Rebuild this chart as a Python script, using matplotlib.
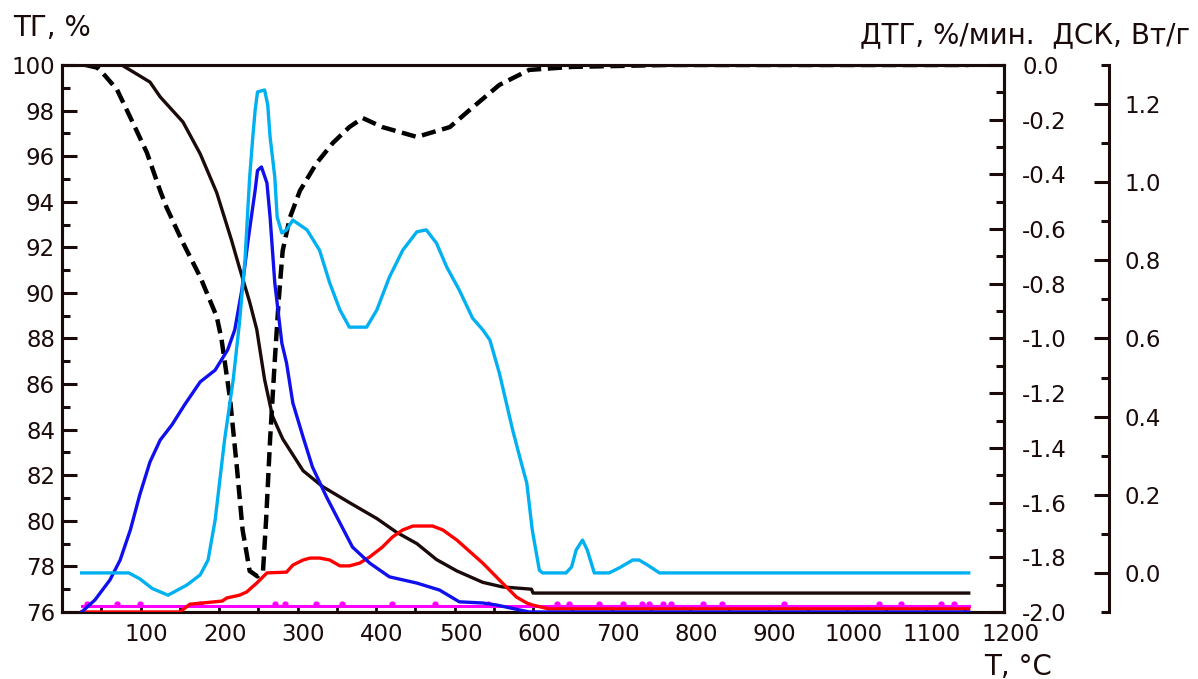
import numpy as np
import matplotlib
matplotlib.use("Agg")
import matplotlib.pyplot as plt
from matplotlib.ticker import MultipleLocator, FixedLocator, FuncFormatter
from matplotlib.transforms import ScaledTranslation

# TG, %
tg_t = [25, 76, 112, 125, 154, 176, 197, 216, 226, 239, 248, 258, 268, 281, 307, 332,
        366, 401, 426, 452, 477, 503, 536, 561, 598, 600, 1155]
tg_v = [100.0, 100.0, 99.25, 98.6, 97.5, 96.1, 94.4, 92.3, 91.1, 89.6, 88.4, 86.2, 84.6,
        83.6, 82.2, 81.5, 80.8, 80.1, 79.5, 79.0, 78.3, 77.8, 77.3, 77.1, 77.0, 76.83, 76.83]

# DTG, %/min
dtg_t = [30, 45, 55, 70, 90, 108, 125, 133, 154, 176, 197, 203, 214, 223, 230, 239, 249,
         256, 260, 265, 271, 276, 281, 290, 303, 324, 345, 366, 383, 408, 452, 494, 519,
         557, 595, 650, 770, 1155]
dtg_v = [0.0, -0.01, -0.04, -0.09, -0.21, -0.32, -0.46, -0.52, -0.65, -0.775, -0.92, -1.0,
         -1.22, -1.48, -1.70, -1.85, -1.87, -1.85, -1.66, -1.37, -1.08, -0.86, -0.68, -0.56,
         -0.46, -0.36, -0.285, -0.227, -0.194, -0.227, -0.263, -0.227, -0.165, -0.073,
         -0.018, -0.007, 0.0, 0.0]

# DSC, W/g (blue)
dsc1_t = [25, 42, 61, 74, 87, 99, 112, 125, 140, 156, 176, 195, 211, 220, 229, 237, 246,
          249, 254, 261, 265, 271, 280, 286, 294, 307, 319, 337, 354, 370, 392, 417, 452,
          481, 506, 536, 553, 595, 1155]
dsc1_v = [-0.1, -0.069, -0.018, 0.033, 0.11, 0.2, 0.284, 0.34, 0.379, 0.43, 0.489, 0.519,
          0.571, 0.622, 0.724, 0.852, 0.98, 1.03, 1.039, 0.998, 0.911, 0.742, 0.588, 0.537,
          0.435, 0.348, 0.271, 0.194, 0.128, 0.066, 0.025, -0.01, -0.026, -0.044, -0.074,
          -0.077, -0.082, -0.1, -0.1]

# DSC, W/g (light blue)
dsc2_t = [25, 85, 99, 115, 135, 159, 176, 186, 195, 207, 218, 226, 233, 239, 243, 246, 249,
          258, 262, 265, 271, 274, 280, 286, 294, 312, 328, 341, 354, 366, 388, 401, 417,
          434, 452, 464, 477, 490, 506, 523, 536, 545, 557, 566, 574, 583, 592, 599, 608,
          612, 642, 649, 655, 663, 669, 678, 697, 710, 727, 735, 746, 761, 1155]
dsc2_v = [0.0, 0.0, -0.015, -0.04, -0.057, -0.031, -0.005, 0.033, 0.135, 0.34, 0.494,
          0.64, 0.80, 1.013, 1.116, 1.185, 1.231, 1.236, 1.198, 1.116, 1.013, 0.911, 0.87,
          0.878, 0.903, 0.878, 0.826, 0.742, 0.673, 0.629, 0.629, 0.673, 0.757, 0.826,
          0.873, 0.878, 0.844, 0.783, 0.724, 0.652, 0.622, 0.596, 0.512, 0.435, 0.366,
          0.297, 0.23, 0.11, 0.007, 0.0, 0.0, 0.015, 0.059, 0.084, 0.059, 0.0, 0.0, 0.013,
          0.033, 0.033, 0.02, 0.0, 0.0]

# DSC, W/g (red)
dsc3_t = [25, 150, 163, 179, 204, 210, 226, 235, 248, 261, 286, 294, 307, 316, 328, 341,
          354, 366, 379, 392, 408, 421, 434, 447, 472, 485, 503, 536, 561, 579, 592, 599,
          620, 1155]
dsc3_v = [-0.1, -0.1, -0.08, -0.077, -0.072, -0.064, -0.057, -0.049, -0.026, 0.0, 0.002,
          0.02, 0.033, 0.038, 0.038, 0.033, 0.018, 0.018, 0.025, 0.041, 0.066, 0.092, 0.11,
          0.12, 0.12, 0.11, 0.084, 0.025, -0.026, -0.062, -0.077, -0.082, -0.092, -0.092]

# DSC, W/g (magenta) with its small spikes
dsc4_t = [25, 1155]
dsc4_v = [-0.085, -0.085]
spike_t = [32, 70, 99, 176, 271, 284, 324, 357, 420, 475, 542, 631, 646, 684, 714, 739,
           748, 765, 776, 816, 841, 920, 1041, 1069, 1120, 1136]
spike_v = [-0.079] * len(spike_t)

ink = "#1a0a0a"
fig = plt.figure(figsize=(11.98, 6.79), dpi=100)
ax = fig.add_axes([0.0518, 0.0987, 0.7863, 0.8056])
ax_dtg = ax.twinx()
ax_dsc = ax.twinx()

ax.set_xlim(0, 1200)
ax.set_ylim(76, 100)
ax_dtg.set_ylim(-2.0, 0.0)
ax_dsc.set_ylim(-0.1, 1.3)

ax_dsc.plot(dsc4_t, dsc4_v, color="#ff00ff", lw=2.2)
ax_dsc.plot(spike_t, spike_v, "o", color="#ff00ff", ms=3.5)
ax_dsc.plot(dsc3_t, dsc3_v, color="#ff0000", lw=2.4)
ax_dsc.plot(dsc1_t, dsc1_v, color="#1010ee", lw=2.4)
ax_dsc.plot(dsc2_t, dsc2_v, color="#00b0f0", lw=2.4)
ax_dtg.plot(dtg_t, dtg_v, color="black", lw=3.2, dashes=(3.2, 1.5))
ax.plot(tg_t, tg_v, color=ink, lw=2.4)

# axes cosmetics
for a in (ax, ax_dtg, ax_dsc):
    for s in a.spines.values():
        s.set_color(ink)
        s.set_linewidth(2.2)
for side in ("top", "bottom", "left"):
    ax_dsc.spines[side].set_visible(False)
ax_dsc.spines["right"].set_position(("axes", 1.1115))

ax.xaxis.set_major_locator(FixedLocator(np.arange(100, 1201, 100)))
ax.xaxis.set_minor_locator(MultipleLocator(50))
ax.yaxis.set_major_locator(MultipleLocator(2))
ax.yaxis.set_minor_locator(MultipleLocator(1))
ax_dtg.yaxis.set_major_locator(MultipleLocator(0.2))
ax_dtg.yaxis.set_minor_locator(MultipleLocator(0.1))
ax_dsc.yaxis.set_major_locator(FixedLocator(np.arange(0, 1.21, 0.2)))
ax_dsc.yaxis.set_minor_locator(FixedLocator(np.arange(-0.1, 1.31, 0.2)))

fmt = FuncFormatter(lambda v, p: "0.0" if abs(v) < 1e-9 else f"{v:.1f}")
ax_dtg.yaxis.set_major_formatter(fmt)
ax_dsc.yaxis.set_major_formatter(fmt)

ax.tick_params(axis="x", which="both", direction="in", length=4, width=2, color=ink,
               labelsize=16.5, pad=8, labelcolor=ink)
ax.tick_params(axis="y", which="major", direction="in", length=11, width=2.2, color=ink,
               labelsize=16.5, pad=5, labelcolor=ink)
ax.tick_params(axis="y", which="minor", direction="in", length=6, width=2.2, color=ink)
for a, pad in ((ax_dtg, 13), (ax_dsc, 11)):
    a.tick_params(axis="y", which="major", direction="in", length=11, width=2.2, color=ink,
                  labelsize=16.5, pad=pad, labelcolor=ink)
    a.tick_params(axis="y", which="minor", direction="in", length=6, width=2.2, color=ink)

# temperature labels sit a little to the right of their ticks
shift = ScaledTranslation(6 / 100, 0, fig.dpi_scale_trans)
for lbl in ax.get_xticklabels():
    lbl.set_transform(lbl.get_transform() + shift)

fig.text(13 / 1198, 1 - 28 / 679, "ТГ, %", fontsize=20, color=ink, ha="left", va="center")
fig.text(1190 / 1198, 1 - 35 / 679, "ДТГ, %/мин.  ДСК, Вт/г", fontsize=20, color=ink,
         ha="right", va="center")
fig.text(1052 / 1198, 1 - 667 / 679, "Т, °С", fontsize=20, color=ink, ha="right",
         va="center")

fig.savefig("out.png", dpi=100)
